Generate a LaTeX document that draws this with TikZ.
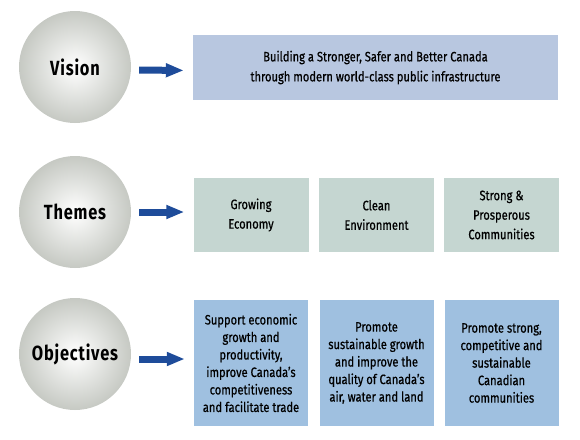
\documentclass[tikz,border=0pt]{standalone}
\usepackage{fontspec}
\setmainfont{Fira Sans}[FakeStretch=0.82,FakeBold=0.6]
\newfontfamily\ballfont{Fira Sans}[FakeStretch=0.8,BoldFont={* Bold},LetterSpace=4]
\usetikzlibrary{arrows.meta}
\definecolor{arrowblue}{HTML}{1E4C9A}
\definecolor{visionfill}{HTML}{B8C7E0}
\definecolor{themefill}{HTML}{C5D6D1}
\definecolor{objfill}{HTML}{9FC0E0}
\definecolor{ballgrey}{HTML}{C6C9C3}
\tikzset{
  ball/.style={circle, minimum size=112pt, inner sep=0pt, shading=radial, inner color=white, outer color=ballgrey, font=\ballfont\bfseries\fontsize{20.5}{24}\selectfont},
  bigarrow/.style={draw=arrowblue, line width=7pt, -{Triangle[width=13pt,length=18pt]}, shorten <=8pt, shorten >=9pt},
  vbox/.style={rectangle, fill=visionfill, minimum width=365pt, minimum height=65pt, align=center, font=\fontsize{13.6}{20}\selectfont},
  tbox/.style={rectangle, fill=themefill, minimum width=115pt, minimum height=74pt, align=center, font=\fontsize{13.6}{19.5}\selectfont},
  obox/.style={rectangle, fill=objfill, minimum width=114pt, minimum height=126pt, align=center, font=\fontsize{13.6}{17.5}\selectfont},
}
\begin{document}
\begin{tikzpicture}[x=1pt,y=-1pt]
\useasboundingbox (0,0) rectangle (580,439);
\node[ball] (vision) at (75,67) {Vision};
\node[ball] (themes) at (75,212) {Themes};
\node[ball] (objectives) at (75,354) {Objectives};
\node[vbox] (vb) at (375.5,67.5) {Building a Stronger, Safer and Better Canada\\through modern world-class public infrastructure};
\node[tbox] (t1) at (251,215) {Growing\\Economy};
\node[tbox] (t2) at (376.5,215) {Clean\\Environment};
\node[tbox] (t3) at (501.5,215) {Strong \&\\Prosperous\\Communities};
\node[obox] (o1) at (251,363) {Support economic\\growth and\\productivity,\\improve Canada's\\competitiveness\\and facilitate trade};
\node[obox] (o2) at (376.5,363) {Promote\\sustainable growth\\and improve the\\quality of Canada's\\air, water and land};
\node[obox] (o3) at (501.5,363) {Promote strong,\\competitive and\\sustainable\\Canadian\\communities};
\draw[bigarrow] ([yshift=-3pt]vision.east) -- ([yshift=-3pt]vb.west);
\draw[bigarrow] (themes.east) -- (themes.east -| t1.west);
\draw[bigarrow] ([yshift=-5pt]objectives.east) -- ([yshift=-5pt]objectives.east -| o1.west);
\end{tikzpicture}
\end{document}
